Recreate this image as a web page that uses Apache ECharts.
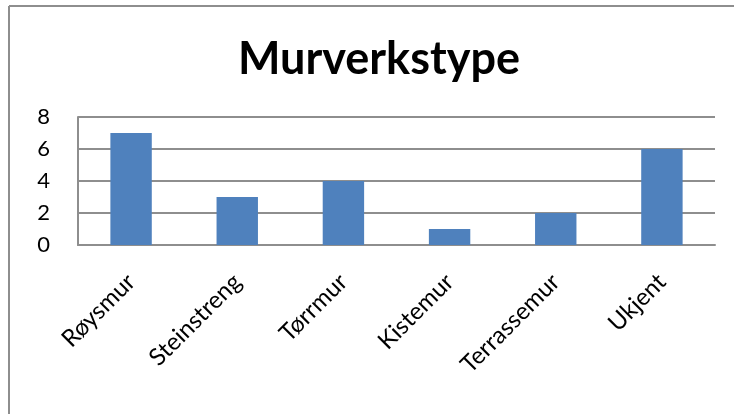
<!DOCTYPE html>
<html>
<head>
<meta charset="utf-8">
<script src="https://cdn.jsdelivr.net/npm/echarts@6/dist/echarts.min.js"></script>
<style>
  html, body { margin: 0; padding: 0; background: #fff; }
  #chart { width: 734px; height: 414px; }
</style>
</head>
<body>
<div id="chart"></div>
<script>
const categories = ["Røysmur", "Steinstreng", "Tørrmur", "Kistemur", "Terrassemur", "Ukjent"];
const values = [7, 3, 4, 1, 2, 6];

const chart = echarts.init(document.getElementById("chart"));
const font = "Lato, 'Open Sans', sans-serif";

chart.setOption({
  animation: false,
  title: {
    text: "Murverkstype",
    left: 374,
    top: 32,
    textAlign: "center",
    textStyle: { fontFamily: font, fontSize: 45, fontWeight: "bold", color: "#000" }
  },
  // chart frame (only top and left edges are visible in the reference)
  graphic: [
    { type: "line", shape: { x1: 9, y1: 6, x2: 734, y2: 6 }, style: { stroke: "#8e8e8e", lineWidth: 2 } },
    { type: "line", shape: { x1: 9, y1: 6, x2: 9, y2: 414 }, style: { stroke: "#8e8e8e", lineWidth: 2 } }
  ],
  grid: { left: 78, right: 19, top: 117, height: 128, containLabel: false },
  xAxis: {
    type: "category",
    data: categories,
    axisLine: { show: true, lineStyle: { color: "#8e8e8e", width: 2 } },
    axisTick: { show: false },
    axisLabel: {
      rotate: 45,
      margin: 33,
      interval: 0,
      color: "#000",
      fontFamily: font,
      fontSize: 24
    }
  },
  yAxis: {
    type: "value",
    min: 0,
    max: 8,
    interval: 2,
    axisLine: { show: true, lineStyle: { color: "#8e8e8e", width: 2 } },
    axisTick: { show: false },
    splitLine: { lineStyle: { color: "#8e8e8e", width: 2 } },
    axisLabel: { color: "#000", fontFamily: font, fontSize: 22, margin: 28 }
  },
  series: [{
    type: "bar",
    data: values,
    barWidth: "39%",
    itemStyle: { color: "#4f81bd" }
  }]
});
</script>
</body>
</html>
